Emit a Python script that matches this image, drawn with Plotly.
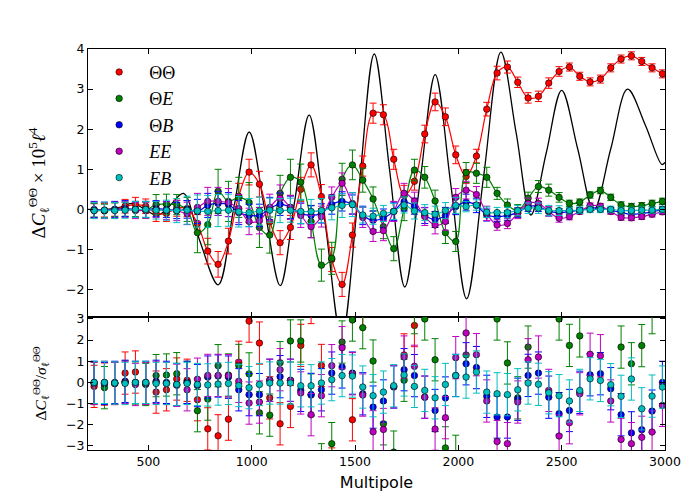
import plotly.graph_objects as go
from plotly.subplots import make_subplots

# multipole bin centres
ell = [237.5, 287.5, 337.5, 387.5, 437.5, 487.5, 537.5, 587.5, 637.5, 687.5,
       737.5, 787.5, 837.5, 887.5, 937.5, 987.5, 1037.5, 1087.5, 1137.5, 1187.5,
       1237.5, 1287.5, 1337.5, 1387.5, 1437.5, 1487.5, 1537.5, 1587.5, 1637.5, 1687.5,
       1737.5, 1787.5, 1837.5, 1887.5, 1937.5, 1987.5, 2037.5, 2087.5, 2137.5, 2187.5,
       2237.5, 2287.5, 2337.5, 2387.5, 2437.5, 2487.5, 2537.5, 2587.5, 2637.5, 2687.5,
       2737.5, 2787.5, 2837.5, 2887.5, 2937.5, 2987.5]

# top panel: Delta C_l x 1e5 l^4
d_tt = [-0.03, -0.02, 0.0, 0.08, 0.12, 0.08, -0.1, -0.1, 0.03, 0.02,
        -0.35, -1.04, -1.37, -0.79, 0.33, 0.93, 0.63, -0.31, -0.83, -0.45,
        0.5, 1.11, 0.32, -1.25, -1.87, -0.64, 1.08, 2.4, 2.36, 1.25,
        0.35, 0.7, 1.88, 2.68, 2.31, 1.36, 0.82, 1.33, 2.5, 3.4,
        3.55, 3.17, 2.78, 2.82, 3.15, 3.44, 3.55, 3.32, 3.18, 3.25,
        3.53, 3.75, 3.83, 3.69, 3.53, 3.38]
d_te = [-0.02, -0.04, -0.01, 0.0, 0.0, -0.02, 0.12, 0.13, 0.12, 0.0,
        -0.58, -0.38, 0.45, 0.2, 0.3, 0.17, -0.45, -0.64, 0.4, 0.8,
        0.68, -0.3, -1.39, -1.22, 0.75, 1.11, 0.73, 0.26, -0.43, -0.98,
        0.02, 0.98, 0.8, 0.21, -0.58, -0.8, 0.92, 0.9, 0.8, 0.4,
        0.11, -0.03, 0.28, 0.57, 0.48, 0.3, 0.15, 0.18, 0.36, 0.47,
        0.3, 0.11, 0.07, 0.09, 0.15, 0.2]
d_tb = [0.0, -0.02, 0.0, 0.02, 0.0, 0.0, 0.02, 0.0, -0.03, 0.0,
        -0.05, 0.1, 0.15, 0.12, -0.08, -0.15, -0.15, 0.02, 0.13, 0.05,
        -0.1, -0.15, -0.1, 0.12, 0.2, 0.12, -0.15, -0.27, -0.22, -0.05,
        0.19, 0.08, -0.15, -0.25, -0.15, 0.07, 0.18, 0.1, -0.14, -0.18,
        -0.15, -0.08, 0.07, 0.07, -0.05, -0.08, -0.06, -0.02, 0.03, 0.03,
        -0.02, -0.08, -0.12, -0.1, -0.06, 0.0]
d_ee = [-0.02, -0.03, -0.02, 0.0, -0.03, -0.02, 0.0, -0.03, -0.03, -0.1,
        0.05, 0.2, 0.2, 0.17, 0.02, -0.3, -0.28, 0.05, 0.28, 0.05,
        -0.15, -0.43, -0.18, 0.3, 0.65, 0.15, -0.2, -0.55, -0.53, -0.05,
        0.4, 0.21, -0.18, -0.39, -0.3, 0.3, 0.48, 0.37, -0.1, -0.39,
        -0.35, -0.1, 0.15, 0.15, -0.05, -0.22, -0.18, -0.05, 0.09, 0.08,
        -0.05, -0.2, -0.21, -0.18, -0.12, -0.06]
d_eb = [-0.03, -0.02, -0.03, -0.02, 0.0, 0.0, -0.02, -0.02, -0.03, -0.02,
        -0.04, -0.05, -0.03, -0.02, -0.06, -0.08, -0.04, -0.02, -0.03, -0.02,
        -0.05, -0.05, -0.03, 0.04, 0.1, 0.12, -0.14, -0.17, -0.1, -0.05,
        0.11, -0.04, -0.08, -0.12, -0.03, 0.1, 0.07, 0.11, -0.07, -0.08,
        -0.08, -0.03, 0.03, 0.03, -0.03, -0.03, -0.03, -0.02, 0.0, 0.0,
        0.0, -0.03, -0.03, -0.02, -0.02, 0.0]

# top panel error bars
e_tt = [0.17, 0.17, 0.17, 0.17, 0.18, 0.18, 0.2, 0.2, 0.2, 0.2,
        0.22, 0.32, 0.32, 0.32, 0.32, 0.32, 0.32, 0.3, 0.3, 0.3,
        0.3, 0.3, 0.3, 0.3, 0.3, 0.3, 0.25, 0.25, 0.25, 0.25,
        0.25, 0.22, 0.22, 0.22, 0.22, 0.22, 0.17, 0.17, 0.17, 0.17,
        0.15, 0.13, 0.13, 0.13, 0.13, 0.12, 0.1, 0.1, 0.1, 0.1,
        0.1, 0.1, 0.1, 0.1, 0.1, 0.1]
e_te = [0.17, 0.17, 0.17, 0.17, 0.18, 0.2, 0.25, 0.25, 0.25, 0.3,
        0.5, 0.5, 0.55, 0.5, 0.5, 0.5, 0.5, 0.45, 0.45, 0.45,
        0.45, 0.4, 0.4, 0.4, 0.4, 0.37, 0.3, 0.3, 0.3, 0.3,
        0.3, 0.27, 0.27, 0.27, 0.27, 0.25, 0.25, 0.25, 0.25, 0.15,
        0.15, 0.15, 0.15, 0.15, 0.15, 0.12, 0.08, 0.08, 0.08, 0.08,
        0.08, 0.08, 0.08, 0.08, 0.08, 0.08]
e_tb = [0.2, 0.2, 0.2, 0.2, 0.2, 0.2, 0.2, 0.2, 0.2, 0.22,
        0.3, 0.3, 0.3, 0.3, 0.3, 0.28, 0.28, 0.28, 0.28, 0.28,
        0.26, 0.24, 0.24, 0.24, 0.24, 0.24, 0.23, 0.23, 0.23, 0.23,
        0.23, 0.2, 0.2, 0.2, 0.2, 0.2, 0.2, 0.18, 0.15, 0.12,
        0.12, 0.12, 0.12, 0.12, 0.11, 0.1, 0.07, 0.07, 0.07, 0.07,
        0.07, 0.07, 0.07, 0.07, 0.07, 0.07]
e_ee = [0.2, 0.2, 0.2, 0.2, 0.2, 0.2, 0.2, 0.22, 0.25, 0.28,
        0.35, 0.35, 0.35, 0.35, 0.35, 0.33, 0.33, 0.33, 0.33, 0.3,
        0.3, 0.28, 0.26, 0.26, 0.26, 0.26, 0.25, 0.25, 0.25, 0.25,
        0.25, 0.22, 0.22, 0.22, 0.22, 0.22, 0.22, 0.2, 0.18, 0.13,
        0.13, 0.13, 0.13, 0.13, 0.12, 0.1, 0.08, 0.07, 0.07, 0.07,
        0.07, 0.07, 0.07, 0.07, 0.07, 0.07]
e_eb = [0.2, 0.2, 0.2, 0.2, 0.2, 0.2, 0.22, 0.25, 0.3, 0.35,
        0.4, 0.4, 0.4, 0.4, 0.38, 0.35, 0.35, 0.3, 0.3, 0.3,
        0.3, 0.3, 0.3, 0.3, 0.3, 0.3, 0.2, 0.2, 0.2, 0.2,
        0.2, 0.2, 0.2, 0.2, 0.2, 0.2, 0.13, 0.13, 0.13, 0.13,
        0.13, 0.13, 0.13, 0.13, 0.13, 0.12, 0.08, 0.08, 0.08, 0.08,
        0.08, 0.08, 0.08, 0.08, 0.08, 0.08]

# bottom panel: Delta C_l / sigma_l
r_tt = [-0.19, -0.08, -0.05, 0.44, 0.49, -0.05, -0.46, -0.35, 0.16, 0.1,
        -0.82, -2.2, -2.53, -1.74, 0.95, 2.9, 1.86, -0.73, -1.96, -1.14,
        1.75, 3.78, 0.8, -4.1, -6.0, -1.77, 3.6, 9.0, 9.0, 4.5,
        1.3, 2.69, 8.0, 12.0, 10.0, 6.0, 4.5, 7.0, 14.0, 22.0,
        24.0, 24.0, 21.0, 22.0, 25.0, 28.0, 35.0, 33.0, 32.0, 32.0,
        35.0, 37.0, 38.0, 37.0, 35.0, 34.0]
r_te = [-0.05, -0.25, -0.05, 0.02, -0.03, -0.1, 0.32, 0.35, 0.41, 0.0,
        -1.34, -0.79, 0.79, 0.35, 0.8, 0.4, -1.44, -1.55, 0.93, 1.96,
        1.96, -0.6, -3.9, -2.9, 1.91, 2.95, 2.59, 1.01, -1.96, -3.3,
        0.1, 3.3, 3.0, 1.07, -3.1, -3.5, 1.3, 4.3, 4.3, 3.0,
        0.92, -0.73, 1.67, 4.5, 4.5, 3.0, 1.75, 2.2, 4.5, 5.8,
        4.2, 1.67, 0.88, 1.74, 3.3, 4.5]
r_tb = [0.0, -0.05, 0.0, 0.05, 0.0, 0.0, 0.05, 0.0, -0.1, 0.0,
        -0.15, 0.25, 0.3, 0.25, -0.35, -0.58, -0.58, 0.1, 0.27, 0.1,
        -0.38, -0.57, -0.35, 0.44, 0.73, 0.44, -0.54, -1.17, -0.88, -0.22,
        0.6, 0.32, -0.7, -1.33, -0.74, 0.33, 0.88, 0.7, -0.66, -1.64,
        -1.64, -0.8, 0.33, 0.44, -0.7, -1.48, -1.33, -0.47, 0.36, 0.41,
        -0.3, -1.53, -2.39, -2.24, -1.36, 0.0]
r_ee = [-0.05, 0.0, -0.05, 0.0, -0.1, -0.05, 0.0, -0.05, -0.14, -0.35,
        0.15, 0.33, 0.33, 0.32, 0.05, -0.98, -0.93, 0.1, 0.6, 0.1,
        -0.5, -1.53, -0.63, 0.79, 1.64, 0.41, -0.6, -2.34, -2.23, -0.2,
        1.2, 0.76, -0.7, -2.21, -1.67, 1.17, 2.34, 1.31, -0.88, -2.8,
        -2.9, -0.93, 1.07, 1.2, -0.38, -2.54, -1.91, -0.54, 1.33, 1.26,
        -0.88, -2.7, -2.9, -2.6, -2.35, -1.09]
r_eb = [0.0, 0.0, -0.03, -0.05, 0.0, 0.0, -0.05, -0.05, -0.1, -0.05,
        -0.1, -0.12, -0.08, -0.05, -0.15, -0.25, -0.1, -0.03, -0.03, -0.03,
        -0.16, -0.16, -0.03, 0.13, 0.32, 0.3, -0.22, -0.63, -0.46, -0.16,
        0.35, -0.19, -0.38, -0.73, -0.1, 0.32, 0.25, 0.49, -0.46, -0.54,
        -0.58, -0.35, -0.03, -0.09, -0.49, -0.63, -0.88, -0.38, 0.17, 0.09,
        -0.11, -0.66, 0.16, -1.25, -0.65, -0.22]

# black reference curve, read at extrema and crossings
curve_ell = [208, 300, 360, 423, 484, 544, 605, 670, 750, 838,
             913, 988, 1063, 1138, 1208, 1278, 1357, 1435, 1515, 1593,
             1667, 1741, 1815, 1888, 1964, 2040, 2123, 2206, 2280, 2351,
             2425, 2500, 2578, 2655, 2737, 2819, 2905, 2985, 3000]
curve_val = [0.0, 0.0, 0.05, 0.15, 0.0, -0.15, 0.1, 0.4, -0.8, -1.88,
             0.02, 1.93, 0.0, -1.9, 0.2, 2.35, -0.4, -3.2, 0.3, 3.875,
             1.0, -1.935, 0.7, 3.36, 0.6, -2.23, 0.85, 3.92, 1.9, -0.14,
             1.4, 2.97, 1.5, -0.02, 1.5, 3.0, 2.1, 1.12, 1.17]

names = ["ΘΘ", "Θ<i>E</i>", "Θ<i>B</i>", "<i>EE</i>", "<i>EB</i>"]
colors = ["#ff0000", "#008000", "#0000ff", "#bf00bf", "#00bfbf"]
top_vals = [d_tt, d_te, d_tb, d_ee, d_eb]
top_errs = [e_tt, e_te, e_tb, e_ee, e_eb]
ratios = [r_tt, r_te, r_tb, r_ee, r_eb]

fig = make_subplots(rows=2, cols=1, shared_xaxes=True, vertical_spacing=0,
                    row_heights=[0.668, 0.332])

zero_line = dict(color="black", width=1.2, dash="8px,5px")
fig.add_hline(y=0, line=zero_line, layer="below", row=1, col=1)
fig.add_hline(y=0, line=zero_line, layer="below", row=2, col=1)

fig.add_trace(go.Scatter(x=curve_ell, y=curve_val, mode="lines",
                         line=dict(color="black", width=1.3, shape="spline", smoothing=1.0),
                         showlegend=False, hoverinfo="skip"), row=1, col=1)

for name, col, vals, errs, rat in zip(names, colors, top_vals, top_errs, ratios):
    mk = dict(color=col, size=6.5, line=dict(color="black", width=0.6))
    fig.add_trace(go.Scatter(x=ell, y=vals, mode="lines",
                             line=dict(color=col, width=1.2, shape="spline"),
                             showlegend=False, hoverinfo="skip"), row=1, col=1)
    fig.add_trace(go.Scatter(x=ell, y=vals, mode="markers", marker=mk, name=name,
                             error_y=dict(type="data", array=errs, color=col,
                                          thickness=1, width=3.5)), row=1, col=1)
    fig.add_trace(go.Scatter(x=ell, y=rat, mode="markers", marker=mk, showlegend=False,
                             error_y=dict(type="constant", value=1, color=col,
                                          thickness=1, width=3.5)), row=2, col=1)

axis_style = dict(showline=True, linecolor="black", linewidth=1, mirror="ticks",
                  ticks="inside", ticklen=5, tickcolor="black", showgrid=False,
                  zeroline=False, tickfont=dict(family="DejaVu Sans", size=12.5, color="black"))

fig.update_xaxes(range=[208, 3000], tickvals=[500, 1000, 1500, 2000, 2500, 3000], **axis_style)
fig.update_xaxes(showticklabels=False, row=1, col=1)
fig.update_xaxes(title=dict(text="Multipole", standoff=8,
                            font=dict(family="DejaVu Sans", size=16, color="black")),
                 row=2, col=1)

fig.update_yaxes(**axis_style)
fig.update_yaxes(range=[-2.68, 4], tickvals=[-2, -1, 0, 1, 2, 3, 4],
                 title=dict(text="Δ<i>C</i><sub>ℓ</sub><sup>ΘΘ</sup> × 10<sup>5</sup><i>ℓ</i><sup>4</sup>",
                            standoff=15, font=dict(family="Liberation Serif", size=19, color="black")),
                 row=1, col=1)
fig.update_yaxes(range=[-3.2, 3.1], tickvals=[-3, -2, -1, 0, 1, 2, 3],
                 title=dict(text="Δ<i>C</i><sub>ℓ</sub><sup>ΘΘ</sup>/<i>σ</i><sub>ℓ</sub><sup>ΘΘ</sup>",
                            standoff=15, font=dict(family="Liberation Serif", size=15.5, color="black")),
                 row=2, col=1)

# page body adds an 8px offset, so the figure is drawn 8px smaller
fig.update_layout(
    width=692, height=492,
    margin=dict(l=80, r=35, t=41, b=50),
    paper_bgcolor="white", plot_bgcolor="white",
    legend=dict(x=0.002, y=0.988, xanchor="left", yanchor="top", itemwidth=50,
                font=dict(family="Liberation Serif", size=18, color="black"),
                bgcolor="rgba(0,0,0,0)", tracegroupgap=0),
)

fig.write_html("out.html")
